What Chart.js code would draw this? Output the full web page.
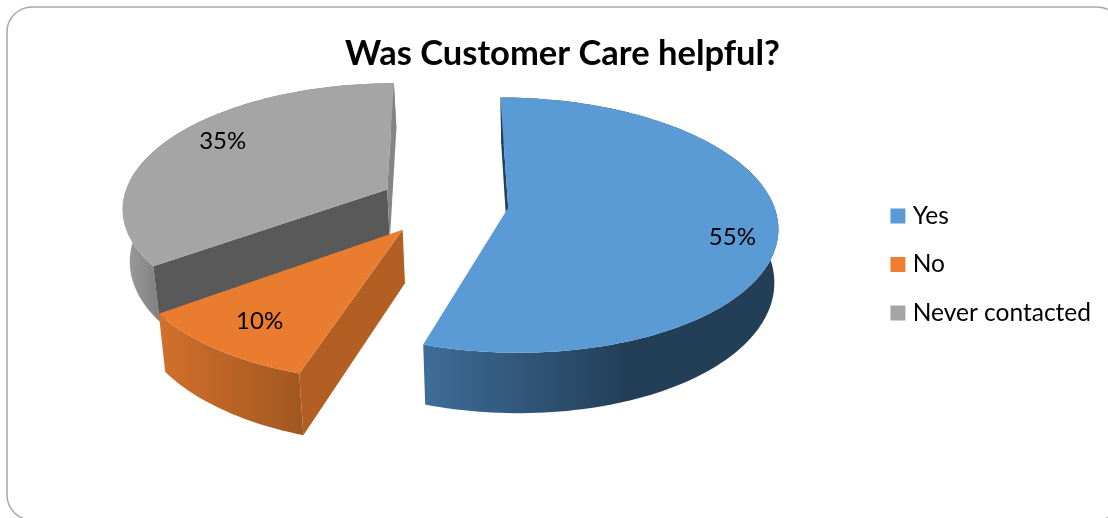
<!DOCTYPE html>
<html>
<head>
<meta charset="utf-8">
<style>
  html, body { margin: 0; padding: 0; background: #fff; overflow: hidden; }
  #wrap { position: absolute; left: 0; top: 0; width: 1108px; height: 518px; }
</style>
<script src="https://cdn.jsdelivr.net/npm/chart.js@4"></script>
</head>
<body>
<div id="wrap"><canvas id="chart" width="1108" height="518"></canvas></div>
<script>
// Survey answers
const categories = ['Yes', 'No', 'Never contacted'];
const shares = [55, 10, 35];
const titleText = 'Was Customer Care helpful?';

// Face and side colours of each slice
const topColors = ['#5b9bd5', '#ea7c30', '#a5a5a5'];
const legendColors = ['#5b9bd5', '#ed7d31', '#a5a5a5'];
const startWallColors = ['#24405a', '#b35f24', '#595959'];
const endWallColors = ['#24405a', '#b35f24', '#858585'];
const rimStops = [
  [[422, '#3f6d9a'], [625, '#233f58'], [780, '#233f58']],
  [[160, '#d2702c'], [298, '#a25820']],
  [[121, '#a0a0a0'], [160, '#7f7f7f']]
];

// Label placement inside each slice: fraction of the sweep and of the radius
const labelSweep = [0.535, 0.5, 0.54];
const labelRadius = [0.84, 0.79, 0.8];

// Tilted view of the pie: a unit disc projected with some perspective
const view = { cx: 444, cy: 203, rx: 265, ry: 124, persp: 0.135, depth: 52, vanishX: 540, shrink: 0.983 };
const explode = [0.244, 0.258, 0.244];

function project(u, v, lowered) {
  const f = 1 / (1 - view.persp * v);
  let x = view.cx + view.rx * u * f;
  let y = view.cy + view.ry * v * f;
  if (lowered) {
    x = view.vanishX + (x - view.vanishX) * view.shrink;
    y += view.depth * f;
  }
  return [x, y];
}

function tracePolygon(ctx, pts) {
  ctx.beginPath();
  pts.forEach((p, i) => (i ? ctx.lineTo(p[0], p[1]) : ctx.moveTo(p[0], p[1])));
  ctx.closePath();
}

function signedArea(pts) {
  let s = 0;
  pts.forEach((p, i) => {
    const q = pts[(i + 1) % pts.length];
    s += p[0] * q[1] - q[0] * p[1];
  });
  return s;
}

// Slice geometry from a Chart.js arc element
function sliceGeometry(arc, i) {
  const { startAngle, endAngle } = arc.getProps(['startAngle', 'endAngle'], true);
  const mid = (startAngle + endAngle) / 2;
  const ou = Math.cos(mid) * explode[i];
  const ov = Math.sin(mid) * explode[i];
  const steps = Math.max(12, Math.round((endAngle - startAngle) * 40));
  const rimUV = [];
  for (let k = 0; k <= steps; k++) {
    const a = startAngle + (endAngle - startAngle) * k / steps;
    rimUV.push([ou + Math.cos(a), ov + Math.sin(a)]);
  }
  return { startAngle, endAngle, ou, ov, rimUV };
}

function drawSlice(ctx, arc, i) {
  const g = sliceGeometry(arc, i);
  const topRim = g.rimUV.map(p => project(p[0], p[1], false));
  const lowRim = g.rimUV.map(p => project(p[0], p[1], true));
  const apexTop = project(g.ou, g.ov, false);
  const apexLow = project(g.ou, g.ov, true);

  // Outer rim, shaded from left to right
  const stops = rimStops[i];
  const x0 = stops[0][0], x1 = stops[stops.length - 1][0];
  const grad = ctx.createLinearGradient(x0, 0, x1, 0);
  stops.forEach(s => grad.addColorStop((s[0] - x0) / (x1 - x0), s[1]));
  ctx.fillStyle = grad;
  tracePolygon(ctx, topRim.concat(lowRim.slice().reverse()));
  ctx.fill();

  // Cut faces, only when they turn toward the viewer
  const startWall = [apexTop, topRim[0], lowRim[0], apexLow];
  const n = topRim.length - 1;
  const endWall = [apexTop, topRim[n], lowRim[n], apexLow];
  if (signedArea(startWall) < 0) {
    ctx.fillStyle = startWallColors[i];
    tracePolygon(ctx, startWall);
    ctx.fill();
  }
  if (signedArea(endWall) > 0) {
    ctx.fillStyle = endWallColors[i];
    tracePolygon(ctx, endWall);
    ctx.fill();
  }

  // Top face
  ctx.fillStyle = topColors[i];
  tracePolygon(ctx, [apexTop].concat(topRim));
  ctx.fill();
}

function drawLabel(ctx, arc, i, total) {
  const g = sliceGeometry(arc, i);
  const a = g.startAngle + (g.endAngle - g.startAngle) * labelSweep[i];
  const p = project(g.ou + Math.cos(a) * labelRadius[i], g.ov + Math.sin(a) * labelRadius[i], false);
  ctx.fillStyle = '#000';
  ctx.font = '24px Lato';
  ctx.textAlign = 'center';
  ctx.textBaseline = 'middle';
  ctx.fillText(Math.round(shares[i] / total * 100) + '%', p[0], p[1]);
}

const pie3d = {
  id: 'pie3d',
  beforeDraw(chart) {
    // Rounded frame that runs past the right and bottom edges
    const ctx = chart.ctx;
    ctx.save();
    ctx.strokeStyle = '#a8a8a8';
    ctx.lineWidth = 1.5;
    ctx.beginPath();
    ctx.roundRect(7, 7, 1115, 513, 25);
    ctx.stroke();
    ctx.restore();
  },
  beforeDatasetDraw(chart, args) {
    const ctx = chart.ctx;
    const arcs = args.meta.data;
    const total = shares.reduce((a, b) => a + b, 0);
    ctx.save();
    // Back to front
    [2, 0, 1].forEach(i => drawSlice(ctx, arcs[i], i));
    arcs.forEach((arc, i) => drawLabel(ctx, arc, i, total));
    ctx.restore();
    return false;
  }
};

new Chart(document.getElementById('chart'), {
  type: 'pie',
  data: {
    labels: categories,
    datasets: [{ data: shares, backgroundColor: legendColors, borderWidth: 0 }]
  },
  plugins: [pie3d],
  options: {
    responsive: false,
    animation: false,
    rotation: 0,
    layout: { padding: { left: 24, right: 7, top: 11, bottom: 0 } },
    plugins: {
      tooltip: { enabled: false },
      title: {
        display: true,
        text: titleText,
        color: '#000',
        font: { family: 'Lato', size: 34.5, weight: 'bold' },
        padding: { top: 22, bottom: 10 }
      },
      legend: {
        position: 'right',
        labels: {
          color: '#000',
          font: { family: 'Lato', size: 24.5 },
          boxWidth: 5,
          boxHeight: 15,
          usePointStyle: true,
          pointStyle: 'rect',
          padding: 24
        }
      }
    }
  }
});
</script>
</body>
</html>
